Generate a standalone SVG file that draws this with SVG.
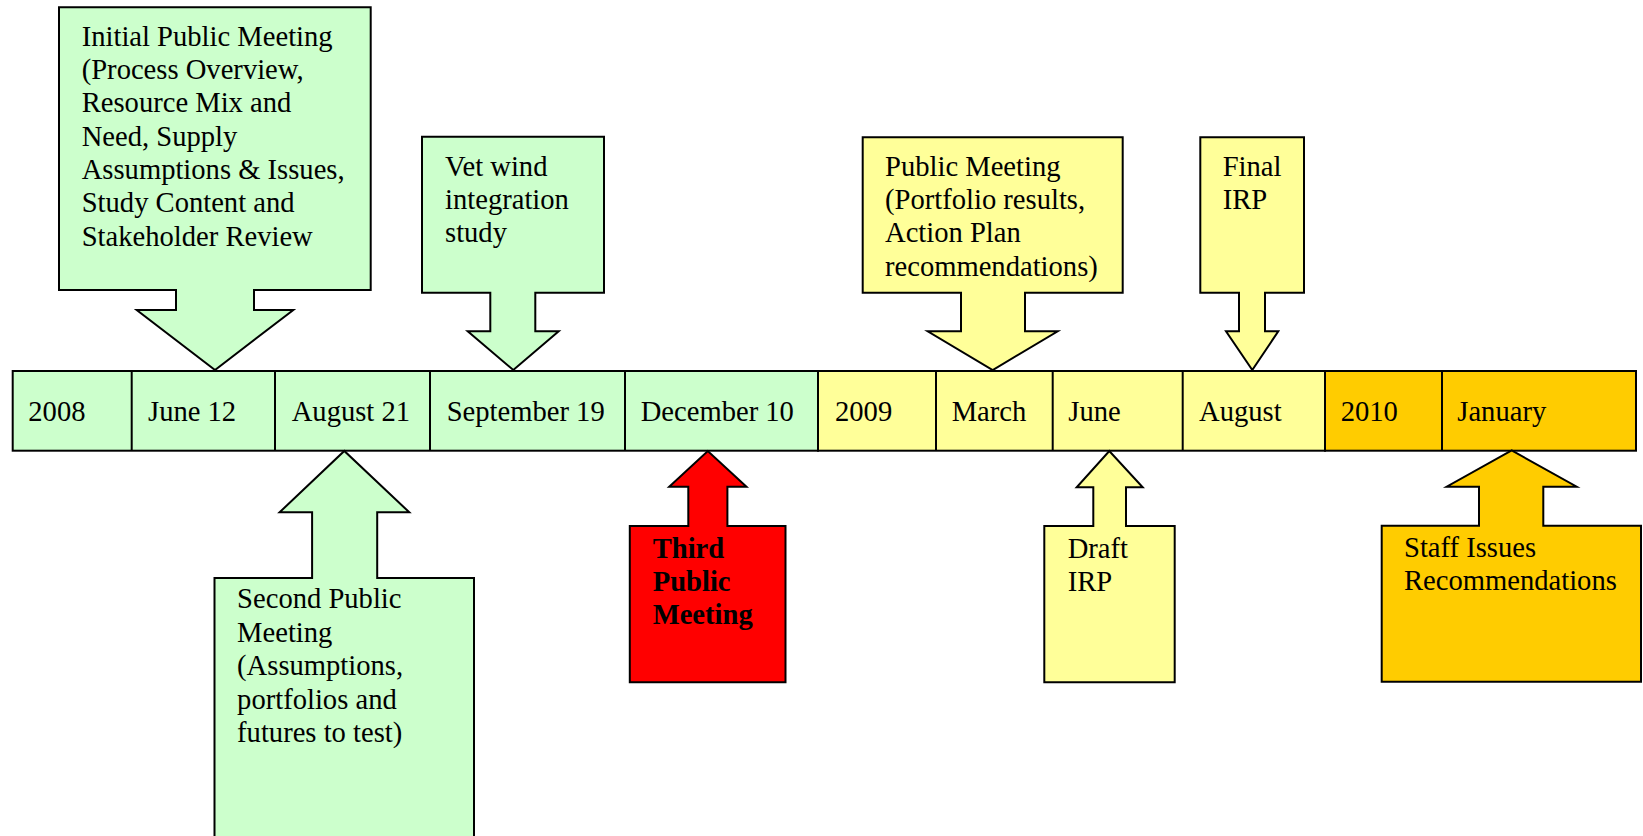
<svg xmlns="http://www.w3.org/2000/svg" width="1643" height="836" viewBox="0 0 1643 836">
<style>
.s{stroke:#000;stroke-width:2;stroke-linejoin:miter}
.g{fill:#CCFFCC}.y{fill:#FFFF99}.o{fill:#FFCC00}.r{fill:#FF0000}
text{font-family:"Liberation Serif","Times New Roman",serif;font-size:28.6px;fill:#000}
.b{font-weight:bold}
</style>
<rect width="1643" height="836" fill="#fff"/>
<g id="timeline">
<rect class="s g" x="12.7" y="371" width="805.3" height="79.7"/>
<rect class="s y" x="818" y="371" width="507" height="79.7"/>
<rect class="s o" x="1325" y="371" width="311" height="79.7"/>
<path class="s" fill="none" d="M131.7,371V450.7M275,371V450.7M430,371V450.7M625,371V450.7M936,371V450.7M1052.7,371V450.7M1182.7,371V450.7M1442,371V450.7"/>
<text x="28.3" y="421">2008</text>
<text x="148" y="421">June 12</text>
<text x="291.7" y="421">August 21</text>
<text x="446.7" y="421">September 19</text>
<text x="640.7" y="421">December 10</text>
<text x="835" y="421">2009</text>
<text x="951.7" y="421">March</text>
<text x="1068.3" y="421">June</text>
<text x="1199" y="421">August</text>
<text x="1340.7" y="421">2010</text>
<text x="1457.3" y="421">January</text>
</g>
<g id="connectors"></g>
<g id="initial">
<path class="s g" d="M59,7.3H370.7V290H254V310H293.3L215,370L136.7,310H176V290H59Z"/>
<text x="81.7" y="45.8">Initial Public Meeting</text>
<text x="81.7" y="79.1">(Process Overview,</text>
<text x="81.7" y="112.4">Resource Mix and</text>
<text x="81.7" y="145.7">Need, Supply</text>
<text x="81.7" y="179">Assumptions &amp; Issues,</text>
<text x="81.7" y="212.3">Study Content and</text>
<text x="81.7" y="245.6">Stakeholder Review</text>
</g>
<g id="vet">
<path class="s g" d="M422,136.7H604V292.7H535.3V331.3H558.7L513.3,370L467.7,331.3H490.3V292.7H422Z"/>
<text x="445" y="175.8">Vet wind</text>
<text x="445" y="209.1">integration</text>
<text x="445" y="242.4">study</text>
</g>
<g id="public">
<path class="s y" d="M862.7,137.3H1122.7V292.7H1025V331.3H1057.7L992.7,370L927.7,331.3H961V292.7H862.7Z"/>
<text x="885" y="175.8">Public Meeting</text>
<text x="885" y="209.1">(Portfolio results,</text>
<text x="885" y="242.4">Action Plan</text>
<text x="885" y="275.7">recommendations)</text>
</g>
<g id="final">
<path class="s y" d="M1200.3,137.3H1304V292.7H1265V331.3H1278.3L1252.3,370L1226,331.3H1239V292.7H1200.3Z"/>
<text x="1222.7" y="175.8">Final</text>
<text x="1222.7" y="209.1">IRP</text>
</g>
<g id="second">
<path class="s g" d="M214.5,845V578H312.1V512.3H279.6L344.3,451L409.3,512.3H377.2V578H474V845Z"/>
<text x="237.1" y="608">Second Public</text>
<text x="237.1" y="641.5">Meeting</text>
<text x="237.1" y="675">(Assumptions,</text>
<text x="237.1" y="708.5">portfolios and</text>
<text x="237.1" y="742">futures to test)</text>
</g>
<g id="third">
<path class="s r" d="M629.8,682.3V526H688.3V486.7H669.2L707.8,451L746.5,486.7H727.4V526H785.5V682.3Z"/>
<text class="b" x="652.7" y="557.5">Third</text>
<text class="b" x="652.7" y="590.8">Public</text>
<text class="b" x="652.7" y="624.1">Meeting</text>
</g>
<g id="draft">
<path class="s y" d="M1044.3,682.3V526H1093.3V487.3H1076.7L1109.3,451L1142.7,487.3H1126V526H1174.7V682.3Z"/>
<text x="1067.7" y="557.5">Draft</text>
<text x="1067.7" y="590.8">IRP</text>
</g>
<g id="staff">
<path class="s o" d="M1381.7,681.7V525.7H1479V486.7H1446.7L1511.7,450.5L1576.7,486.7H1543.3V525.7H1641V681.7Z"/>
<text x="1404" y="556.5">Staff Issues</text>
<text x="1404" y="589.8">Recommendations</text>
</g>
</svg>
